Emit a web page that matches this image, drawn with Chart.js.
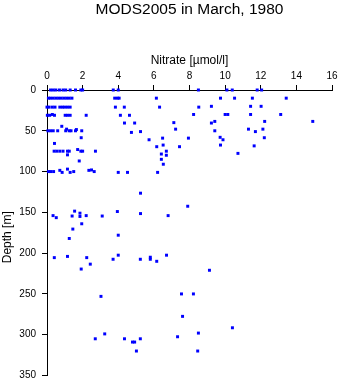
<!DOCTYPE html>
<html>
<head>
<meta charset="utf-8">
<title>MODS2005 in March, 1980</title>
<script src="https://cdn.jsdelivr.net/npm/chart.js@4/dist/chart.umd.min.js"></script>
<style>
  html, body { margin: 0; padding: 0; background: #fff; }
  #wrap { width: 341px; height: 384px; }
</style>
</head>
<body>
<div id="wrap"><canvas id="c" width="341" height="384"></canvas></div>
<script>
// Nitrate profile observations, [nitrate µmol/l, depth m], grouped by depth band
const chartTitle = 'MODS2005 in March, 1980';
const xTitle = 'Nitrate [µmol/l]';
const yTitle = 'Depth [m]';
const xTicks = [0, 2, 4, 6, 8, 10, 12, 14, 16];
const yTicks = [0, 50, 100, 150, 200, 250, 300, 350];

const obsSurface = [
  [0.2, 0], [0.35, 0], [0.5, 0], [0.7, 0], [0.9, 0], [1.05, 0], [1.3, 0], [1.6, 0], [1.9, 0], [2.0, 0],
  [3.72, 0], [4.0, 0], [8.5, 0], [10.1, 0], [10.4, 0], [11.8, 0], [12.05, 0],
  [0.08, 10], [0.2, 10], [0.35, 10], [0.5, 10], [0.65, 10], [0.8, 10], [0.95, 10], [1.1, 10], [1.25, 10], [1.4, 10],
  [3.8, 10], [3.95, 10], [4.05, 10], [6.14, 10], [9.74, 10], [10.53, 10], [11.53, 10], [13.43, 10],
  [0.0, 21], [0.12, 21], [0.3, 21], [0.45, 21], [0.72, 21], [0.87, 21], [1.0, 21], [1.15, 21], [1.3, 21],
  [3.84, 21], [4.34, 21], [6.32, 21], [8.52, 21], [9.23, 20], [11.43, 20], [12.02, 20],
  [0.02, 31], [0.15, 31], [0.3, 30], [0.42, 31], [1.02, 31], [1.15, 31], [1.3, 31], [2.2, 31],
  [4.12, 31], [4.63, 31], [8.23, 30], [10.0, 30], [10.15, 30], [11.43, 30], [13.12, 30]
];

const obsUpper = [
  [4.35, 40.5], [4.92, 40.5], [7.12, 40], [9.23, 40.5], [9.42, 38.5], [12.22, 38.5], [14.92, 38.5],
  [0.83, 44.5],
  [0.05, 50], [0.2, 50], [0.35, 50], [0.6, 50], [1.05, 50], [1.25, 50], [1.35, 50], [1.6, 50], [1.95, 50],
  [1.1, 48], [1.65, 48.5],
  [4.74, 52], [5.25, 51], [7.22, 48], [9.42, 50], [11.31, 48], [12.12, 48], [11.7, 51]
];

const obsMid = [
  [1.92, 58.5], [5.73, 61], [6.49, 59], [7.94, 59], [9.72, 58], [9.88, 61], [12.2, 58.5],
  [0.42, 65.5], [6.52, 67.5], [6.16, 69.5], [7.44, 69.5], [9.74, 67.5], [11.63, 68.5],
  [0.4, 75], [0.55, 75], [0.72, 75], [0.9, 75], [1.15, 75], [1.25, 75], [1.72, 73], [1.9, 75], [2.0, 75], [2.72, 75],
  [1.15, 79.5], [6.42, 78.5], [6.7, 75], [6.7, 80], [10.72, 77.7],
  [1.81, 87], [6.42, 85], [6.53, 91]
];

const obs100 = [
  [0.08, 100], [0.2, 100], [0.37, 100], [0.72, 98.5], [0.85, 101], [1.15, 97], [1.3, 101], [1.5, 100],
  [2.35, 98.5], [2.5, 98], [2.65, 100], [4.0, 101], [4.52, 101], [6.21, 101]
];

const obsIntermediate = [
  [5.25, 126.5], [7.9, 142.5],
  [0.34, 154], [0.52, 156.5], [1.41, 154.5], [1.55, 148.5], [1.85, 151], [1.85, 155], [2.2, 154],
  [3.1, 154.5], [3.95, 149], [5.25, 151.5], [6.8, 154],
  [1.95, 164], [1.45, 170.5], [1.25, 182], [4.0, 178],
  [0.41, 205.5], [1.15, 204], [2.23, 205.5], [1.92, 219.5], [2.43, 213.5], [3.71, 207.5], [4.0, 202.5],
  [5.24, 207.5], [5.8, 205], [5.8, 207.5], [6.16, 210], [6.71, 202.5], [9.12, 221]
];

const obsDeep = [
  [3.03, 253], [7.55, 250], [8.22, 250], [7.61, 277.5],
  [2.71, 305], [3.24, 299], [4.35, 305], [4.8, 309], [4.92, 309], [5.02, 320], [5.24, 305],
  [7.33, 302.5], [8.5, 298], [8.46, 320], [10.41, 291.5]
];

const allObs = [].concat(obsSurface, obsUpper, obsMid, obs100, obsIntermediate, obsDeep)
  .map(([x, y]) => ({ x, y }));

const FONT = '"Liberation Sans", Arial, Helvetica, sans-serif';
Chart.defaults.font.family = FONT;
Chart.defaults.color = '#000';

// Heading above the plot and the rotated depth-axis caption
const captionPlugin = {
  id: 'captions',
  afterDraw(chart) {
    const { ctx, chartArea } = chart;
    ctx.save();
    ctx.fillStyle = '#000';
    ctx.textAlign = 'center';
    ctx.font = '15.5px ' + FONT;
    ctx.textBaseline = 'alphabetic';
    ctx.fillText(chartTitle, (chartArea.left + chartArea.right) / 2, 13.5);

    ctx.font = '12px ' + FONT;
    ctx.textBaseline = 'middle';
    ctx.translate(7.5, (chartArea.top + chartArea.bottom) / 2 + 4.5);
    ctx.rotate(-Math.PI / 2);
    ctx.fillText(yTitle, 0, 0);
    ctx.restore();
  }
};

const axisGrid = {
  display: true,
  drawOnChartArea: false,
  drawTicks: true,
  tickLength: 5,
  tickColor: '#000',
  color: '#000',
  lineWidth: 1
};

new Chart(document.getElementById('c'), {
  type: 'scatter',
  data: {
    datasets: [{
      data: allObs,
      pointStyle: 'rect',
      pointRadius: 2.1,
      pointHoverRadius: 2.1,
      borderWidth: 0,
      backgroundColor: '#0000ff',
      borderColor: '#0000ff',
      clip: false
    }]
  },
  options: {
    responsive: false,
    animation: false,
    devicePixelRatio: 1,
    layout: { autoPadding: false, padding: { left: 0, top: 0, right: 9, bottom: 8.5 } },
    plugins: {
      legend: { display: false },
      title: { display: false },
      tooltip: { enabled: false }
    },
    scales: {
      x: {
        type: 'linear',
        position: 'top',
        min: xTicks[0],
        max: xTicks[xTicks.length - 1],
        afterBuildTicks(scale) { scale.ticks = xTicks.map(v => ({ value: v })); },
        ticks: { font: { size: 10 }, padding: 3, color: '#000', maxRotation: 0 },
        grid: axisGrid,
        border: { display: true, color: '#000', width: 1 },
        title: { display: true, text: xTitle, font: { size: 12 }, color: '#000', padding: { top: 53, bottom: 0 } },
        afterFit(scale) {
          scale.height = 90;
          scale.paddingLeft = 0; scale.paddingRight = 0;
        }
      },
      y: {
        type: 'linear',
        position: 'left',
        reverse: true,
        min: yTicks[0],
        max: yTicks[yTicks.length - 1],
        afterBuildTicks(scale) { scale.ticks = yTicks.map(v => ({ value: v })); },
        ticks: { font: { size: 10 }, padding: 6, color: '#000' },
        grid: axisGrid,
        border: { display: true, color: '#000', width: 1 },
        title: { display: false },
        afterFit(scale) {
          scale.width = 47;
          scale.paddingTop = 0; scale.paddingBottom = 0;
        }
      }
    }
  },
  plugins: [captionPlugin]
});
</script>
</body>
</html>
